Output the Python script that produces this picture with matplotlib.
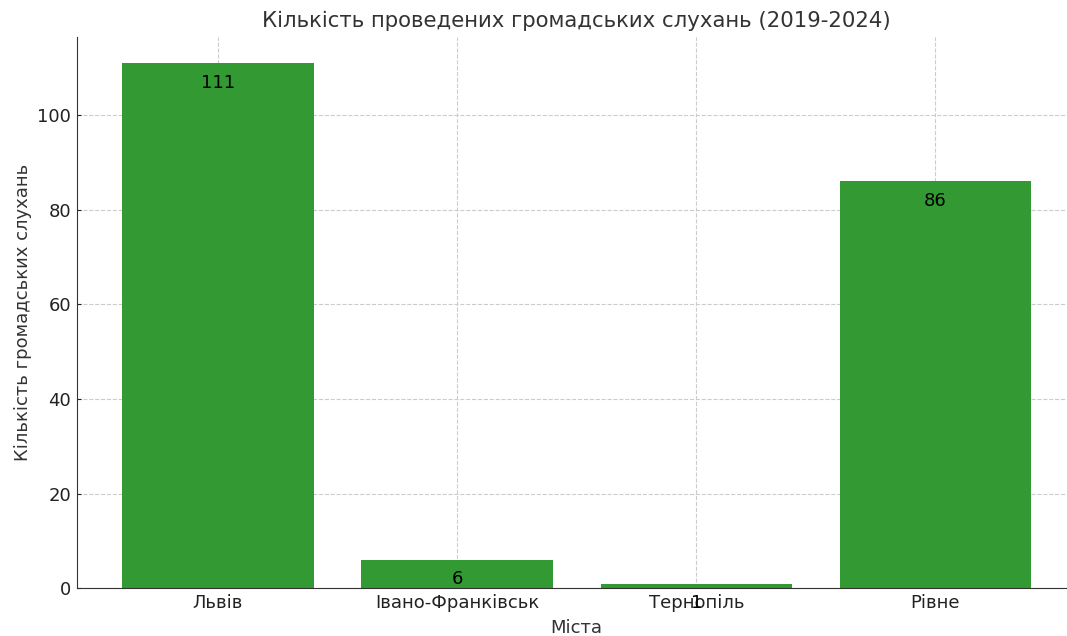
import matplotlib
import matplotlib.pyplot as plt

matplotlib.use('Agg')

cities = ['Львів', 'Івано-Франківськ', 'Тернопіль', 'Рівне']
hearings = [111, 6, 1, 86]


def plot_hearings(x, y):
    fig, ax = plt.subplots(figsize=(10.67, 6.36), dpi=100)
    bars = ax.bar(x, y, color='#339933', zorder=2)
    ax.grid(True, linestyle='--', color='#cccccc', linewidth=0.8, zorder=0)
    for bar, val in zip(bars, y):
        ax.text(bar.get_x() + bar.get_width() / 2, val - 6, str(val),
                ha='center', va='bottom', fontsize=13, color='black', zorder=3)
    ax.set_title('Кількість проведених громадських слухань (2019-2024)',
                 fontsize=15.3, color='#333333', pad=7)
    ax.set_xlabel('Міста', fontsize=13, color='#333333', labelpad=5)
    ax.set_ylabel('Кількість громадських слухань', fontsize=13, color='#333333')
    ax.tick_params(labelsize=13, colors='#222222', direction='in', length=3, pad=4)
    for side in ('top', 'right'):
        ax.spines[side].set_visible(False)
    for side in ('left', 'bottom'):
        ax.spines[side].set_color('#333333')
    fig.subplots_adjust(left=0.072, right=1.009, top=0.942, bottom=0.075)
    fig.savefig('out.png')


plot_hearings(cities, hearings)
